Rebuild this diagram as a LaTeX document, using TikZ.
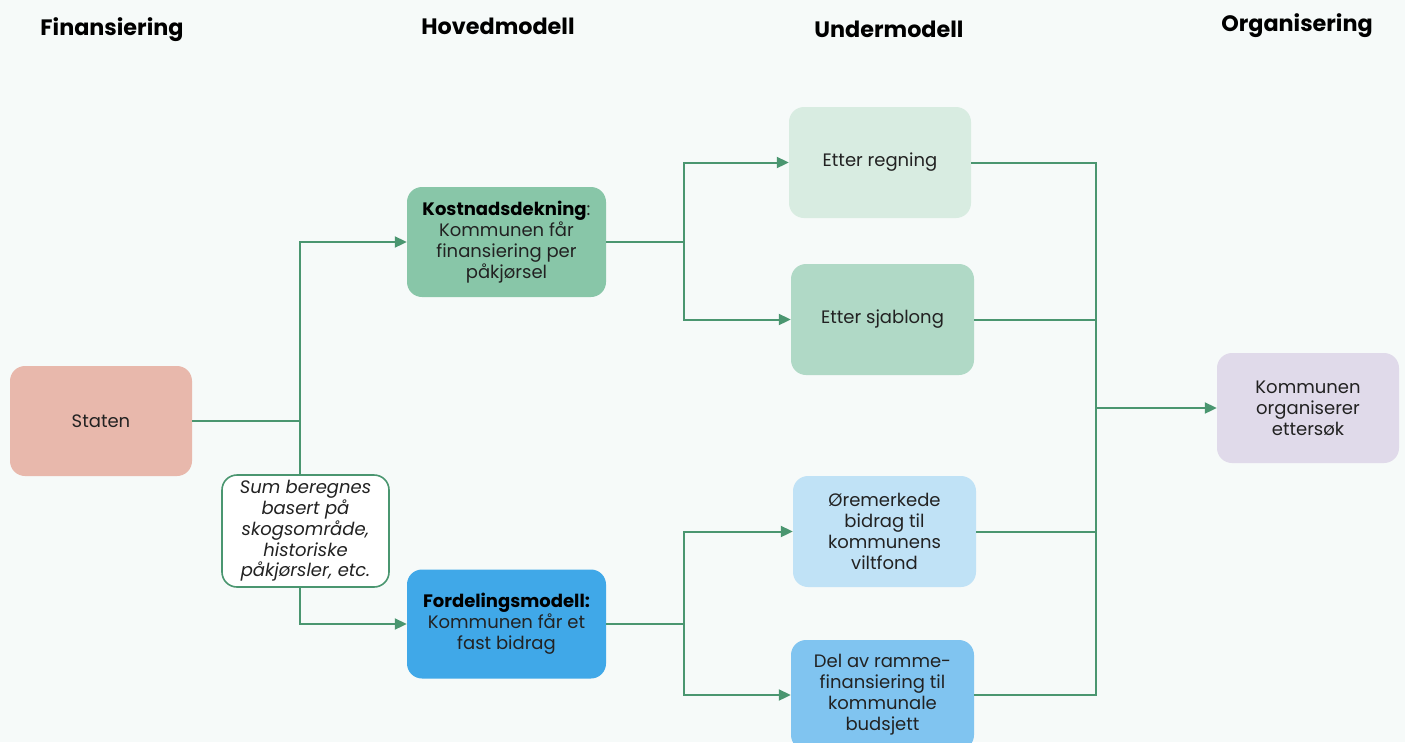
\documentclass[tikz,border=0pt]{standalone}
\usepackage{fontspec}
\setmainfont{Poppins}
\usetikzlibrary{arrows.meta}
\definecolor{bg}{HTML}{F6FAF9}
\definecolor{lnk}{HTML}{4A9670}
\definecolor{cStaten}{HTML}{E8B8AC}
\definecolor{cKost}{HTML}{88C6A8}
\definecolor{cFord}{HTML}{40A8E8}
\definecolor{cRegn}{HTML}{D8ECE1}
\definecolor{cSjab}{HTML}{B0D9C6}
\definecolor{cOere}{HTML}{C0E2F6}
\definecolor{cDel}{HTML}{80C4F0}
\definecolor{cOrg}{HTML}{E0DAEA}
\definecolor{txt}{HTML}{222222}
\tikzset{
  box/.style={rounded corners=15pt, inner sep=0pt, align=center, text=txt,
    font=\fontsize{18}{21}\selectfont},
  heading/.style={font=\fontsize{22.3}{26}\selectfont\bfseries, text=black},
  link/.style={draw=lnk, line width=2pt},
  arr/.style={link, -{Triangle[length=12pt,width=11pt]}},
}
\begin{document}
\begin{tikzpicture}[x=1pt,y=-1pt]
\fill[bg] (0,0) rectangle (1405,742);
\useasboundingbox (0,0) rectangle (1405,742);
\begin{scope}
\clip (0,0) rectangle (1405,742);
% headings
\node[heading] (h1) at (112,30) {Finansiering};
\node[heading] (h2) at (498,26) {Hovedmodell};
\node[heading] (h3) at (889,29) {Undermodell};
\node[heading] (h4) at (1297,26) {Organisering};
% boxes
\node[box, fill=cStaten, minimum width=182pt, minimum height=110pt] (staten) at (101,421) {Staten};
\node[box, fill=cKost, minimum width=199pt, minimum height=110pt] (kost) at (506.5,242)
  {{\color{black}\bfseries Kostnadsdekning}:\\Kommunen får\\finansiering per\\påkjørsel};
\node[box, fill=white, draw=lnk, line width=1.6pt, minimum width=167pt, minimum height=112pt,
  font=\fontsize{18}{20.8}\selectfont\itshape] (sum) at (305.5,531)
  {Sum beregnes\\basert på\\skogsområde,\\historiske\\påkjørsler, etc.};
\node[box, fill=cFord, minimum width=199pt, minimum height=109pt] (ford) at (506.5,624)
  {{\color{black}\bfseries Fordelingsmodell:}\\Kommunen får et\\fast bidrag};
\node[box, fill=cRegn, minimum width=182pt, minimum height=111pt] (regn) at (880,162.5) {Etter regning};
\node[box, fill=cSjab, minimum width=183pt, minimum height=111pt] (sjab) at (882.5,319.5) {Etter sjablong};
\node[box, fill=cOere, minimum width=183pt, minimum height=111pt] (oere) at (884.5,531.5)
  {Øremerkede\\bidrag til\\kommunens\\viltfond};
\node[box, fill=cDel, minimum width=183pt, minimum height=110pt] (del) at (882.5,695)
  {Del av ramme-\\finansiering til\\kommunale\\budsjett};
\node[box, fill=cOrg, minimum width=182pt, minimum height=110pt] (org) at (1308,408)
  {Kommunen\\organiserer\\ettersøk};
% junctions
\coordinate (j1) at (300,421);
\coordinate (j2) at (684,242);
\coordinate (j3) at (684,624);
\coordinate (j4) at (1096,408);
% connectors
\draw[link] (staten.east) -- (j1);
\draw[arr] (j1) |- (kost.west);
\draw[link] (j1) -- (j1 |- sum.north);
\draw[arr] (sum.south -| j1) |- (ford.west);
\draw[link] (kost.east) -- (j2);
\draw[arr] (j2) |- (regn.west);
\draw[arr] (j2) |- (sjab.west);
\draw[link] (ford.east) -- (j3);
\draw[arr] (j3) |- (oere.west);
\draw[arr] (j3) |- (del.west);
\draw[link] (regn.east) -| (j4);
\draw[link] (sjab.east) -| (j4);
\draw[link] (oere.east) -| (j4);
\draw[link] (del.east) -| (j4);
\draw[arr] (j4) -- (org.west);
\end{scope}
\end{tikzpicture}
\end{document}
